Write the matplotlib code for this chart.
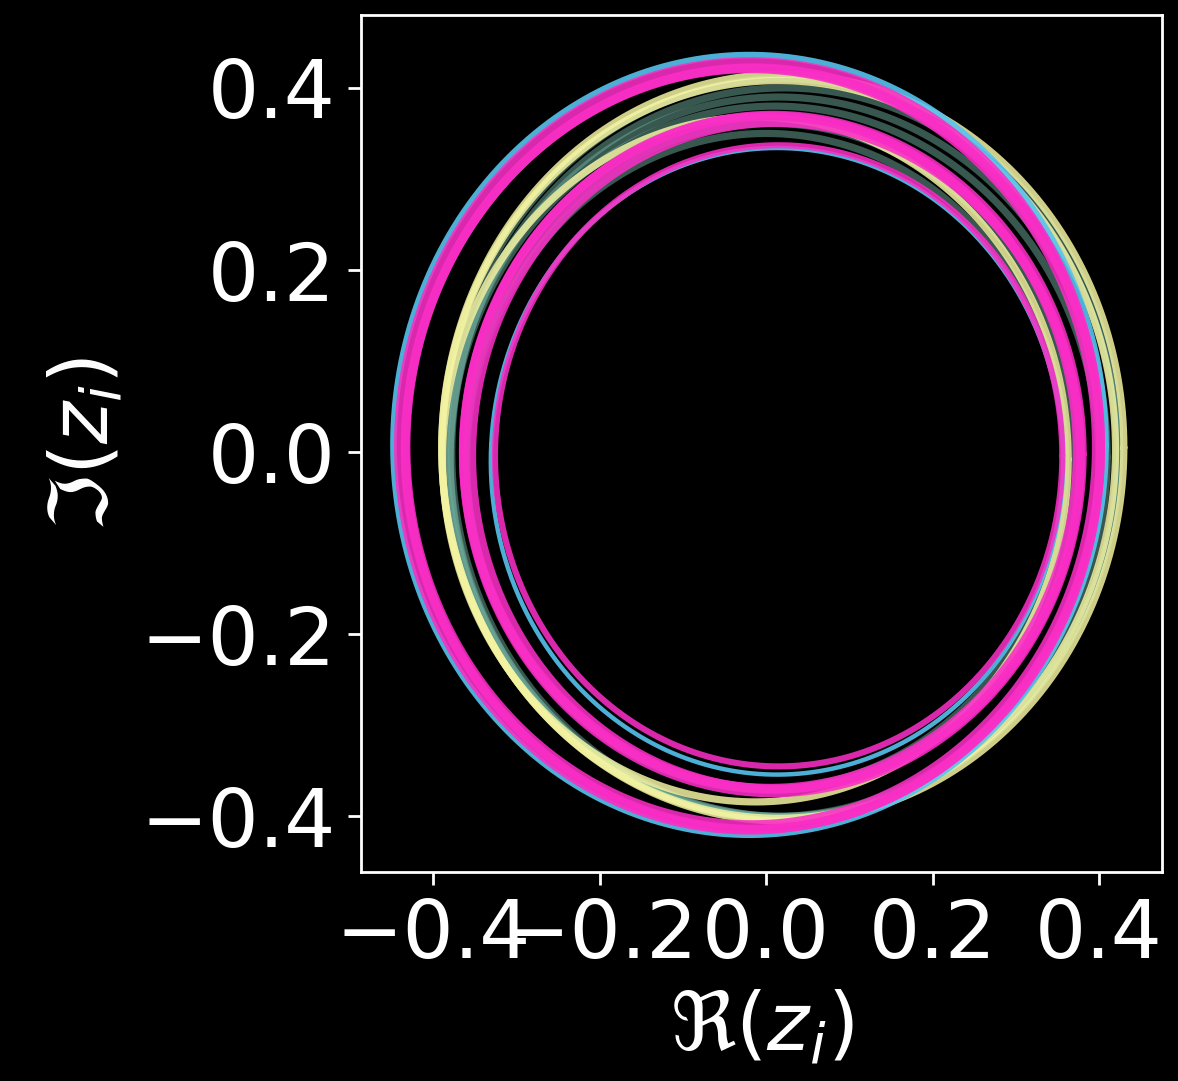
import numpy as np
import matplotlib
matplotlib.use("Agg")
import matplotlib.pyplot as plt

# Ring trajectories: colour, centre (x, y), radius
ring_colors = ["teal", "teal", "teal", "teal", "teal", "teal",
               "yellow", "yellow", "yellow",
               "blue", "blue",
               "pink", "pink", "pink",
               "pink", "pink", "pink",
               "pink"]
ring_cx = [0.022, 0.015, 0.020, 0.010, 0.000, 0.005,
           0.020, 0.015, -0.013,
           -0.020, 0.013,
           -0.020, -0.018, -0.016,
           0.008, 0.012, 0.005,
           0.015]
ring_cy = [0.000, -0.005, 0.005, -0.010, -0.010, -0.005,
           0.005, 0.003, -0.008,
           0.008, -0.010,
           0.007, 0.006, 0.004,
           -0.002, -0.004, 0.000,
           -0.004]
ring_r = [0.400, 0.395, 0.405, 0.390, 0.360, 0.366,
          0.410, 0.405, 0.376,
          0.428, 0.344,
          0.422, 0.415, 0.418,
          0.372, 0.366, 0.369,
          0.341]

palette = {"teal": "#6fae9e", "yellow": "#f3f3a2", "blue": "#56c3ee", "pink": "#fa2ec6"}
alphas = {"teal": 0.5, "yellow": 0.85, "blue": 0.9, "pink": 0.88}
widths = {"teal": 2.6, "yellow": 2.6, "blue": 2.4, "pink": 3.2}

xticks = [-0.4, -0.2, 0.0, 0.2, 0.4]
yticks = [-0.4, -0.2, 0.0, 0.2, 0.4]

fs = 29
fig = plt.figure(figsize=(5.89, 5.405), dpi=200, facecolor="black")
ax = fig.add_axes([0.3065, 0.1933, 0.68, 0.7928])
ax.set_facecolor("black")

t = np.linspace(0, 2 * np.pi, 800)
for c, cx, cy, r in zip(ring_colors, ring_cx, ring_cy, ring_r):
    lw = widths[c] if not (c == "pink" and r < 0.35) else 2.2
    if c == "blue" and r < 0.35:
        lw = 1.6
    ax.plot(cx + r * np.cos(t), cy + r * np.sin(t), color=palette[c],
            alpha=alphas[c], lw=lw, solid_capstyle="round")

ax.set_xlim(-0.487, 0.476)
ax.set_ylim(-0.461, 0.480)
ax.set_xticks(xticks)
ax.set_yticks(yticks)
ax.set_xticklabels([f"{v:.1f}".replace("-", "\u2212") for v in xticks])
ax.set_yticklabels([f"{v:.1f}".replace("-", "\u2212") for v in yticks])
for s in ax.spines.values():
    s.set_color("white")
    s.set_linewidth(1.0)
ax.tick_params(colors="white", labelsize=fs, length=4.6, width=1.0, pad=4.5)
ax.set_xlabel(r"$\Re(z_i)$", color="white", fontsize=fs, labelpad=5)
ax.set_ylabel(r"$\Im(z_i)$", color="white", fontsize=fs, labelpad=5)

fig.savefig("out.png", dpi=200, facecolor="black")
